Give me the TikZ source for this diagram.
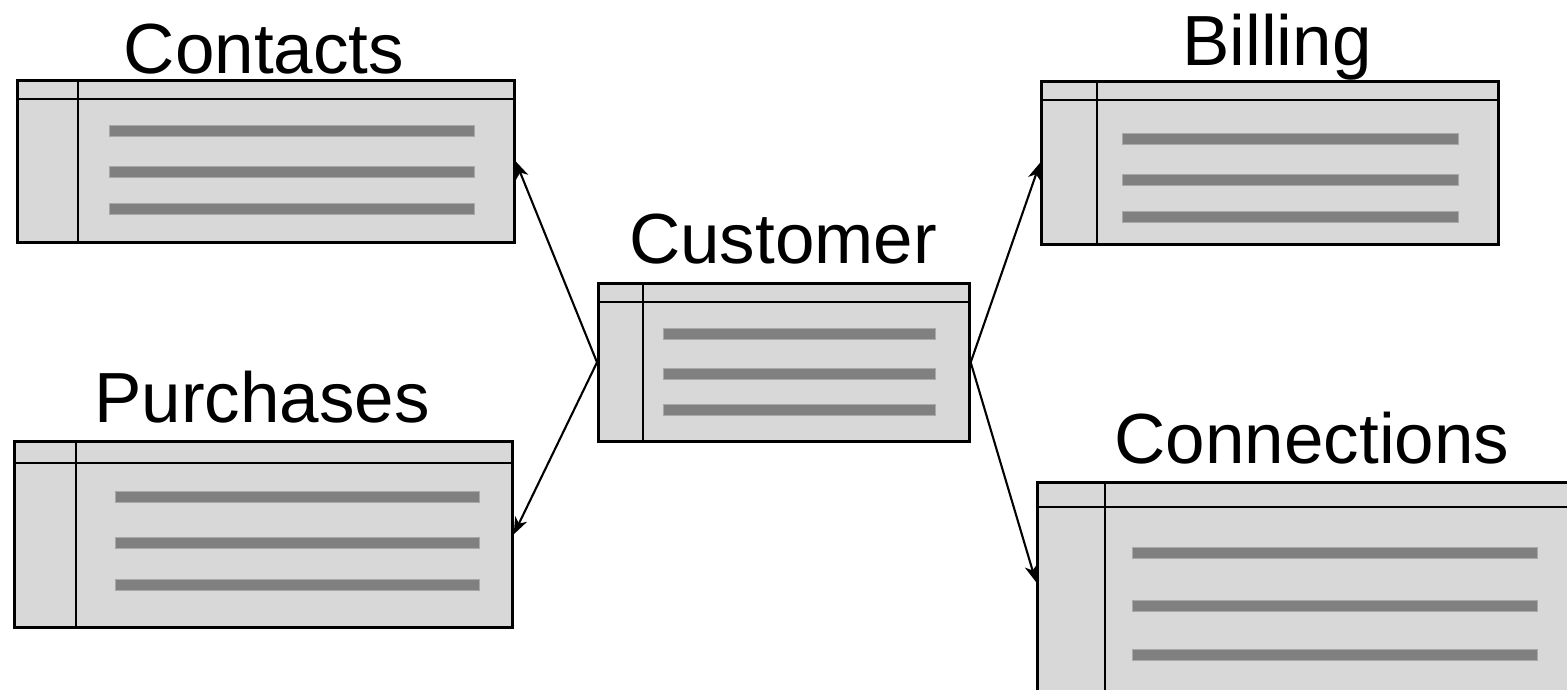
\documentclass[tikz,border=0pt]{standalone}
\usepackage{fontspec}
\setmainfont{Liberation Sans}
\usetikzlibrary{arrows.meta}
\definecolor{tablegray}{HTML}{D8D8D8}
\definecolor{bargray}{HTML}{808080}
\definecolor{barline}{HTML}{A8A8A8}

% #1 name, #2/#3 top-left, #4/#5 bottom-right, #6 key column x, #7 header line y
\newcommand\erdtable[7]{%
  \node[tbl, anchor=north west, minimum width={(#4-#2)*1pt}, minimum height={(#5-#3)*1pt}] (#1) at (#2,#3) {};
  \draw[rule] (#6,#3) -- (#6,#5);
  \draw[rule] (#2,#7) -- (#4,#7);
}
% #1 left x, #2 right x, #3 list of bar centre y values
\newcommand\erdbars[3]{%
  \foreach \yy in {#3} \draw[bar] (#1,\yy-5.5) rectangle (#2,\yy+5.5);
}

\begin{document}
\begin{tikzpicture}[x=1pt,y=-1pt,
  tbl/.style={draw=black, line width=2.7pt, fill=tablegray, inner sep=0pt, rectangle},
  rule/.style={draw=black, line width=2.5pt},
  bar/.style={draw=barline, line width=0.8pt, fill=bargray},
  title/.style={anchor=base, font=\fontsize{71}{71}\selectfont},
  link/.style={line width=2.1pt, -{Stealth[length=17pt,width=13pt,inset=5pt]}}]

\useasboundingbox (0,0) rectangle (1567,689);
\clip (0,0) rectangle (1567,689);

% tables
\erdtable{contacts}{16}{79}{513}{241}{78}{99}
\erdbars{109}{474}{131,172,209}
\node[title] (contactsT) at (264,73) {Contacts};

\erdtable{purchases}{13}{440}{511}{626}{76}{463}
\erdbars{115}{479}{497,543,585}
\node[title] (purchasesT) at (262,422) {Purchases};

\erdtable{customer}{597}{282}{968}{440}{643}{302}
\erdbars{663}{935}{334,374,410}
\node[title] (customerT) at (783,263) {Customer};

\erdtable{billing}{1040}{80}{1497}{243}{1097}{100}
\erdbars{1122}{1458}{139,180,217}
\node[title] (billingT) at (1277,65) {Billing};

\erdtable{connections}{1036}{481}{1600}{720}{1105}{507}
\erdbars{1132}{1537}{553,606,655}
\node[title] (connectionsT) at (1312,463) {Connections};

\coordinate (connIn) at ([yshift=-101pt]connections.north west);

% relationships
\draw[link] (customer.west) -- (contacts.east);
\draw[link] (customer.west) -- (purchases.east);
\draw[link] (customer.east) -- (billing.west);
\draw[link] (customer.east) -- (connIn);
\end{tikzpicture}
\end{document}
